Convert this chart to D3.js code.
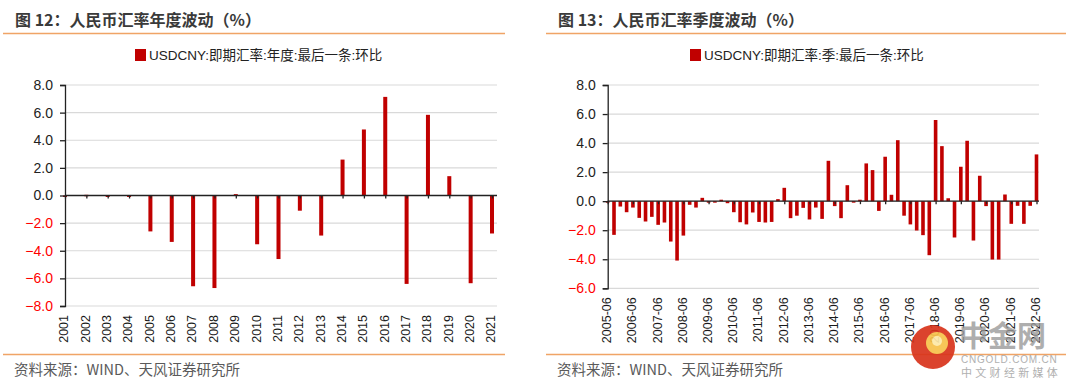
<!DOCTYPE html>
<html>
<head>
<meta charset="utf-8">
<script src="https://cdn.jsdelivr.net/npm/d3@7"></script>
<style>
  body { margin: 0; background: #fff; }
  svg { display: block; font-family: 'Liberation Sans', Arial, 'Noto Sans CJK SC', sans-serif; }
</style>
</head>
<body>
<svg id="page" width="1080" height="389"></svg>
<script>
// annual data
var years = ['2001','2002','2003','2004','2005','2006','2007','2008','2009','2010','2011',
             '2012','2013','2014','2015','2016','2017','2018','2019','2020','2021'];
var annualChg = [0.0, 0.05, -0.05, -0.05, -2.6, -3.36, -6.57, -6.7, 0.1, -3.53, -4.6,
                 -1.1, -2.9, 2.6, 4.78, 7.14, -6.4, 5.84, 1.4, -6.35, -2.75];

// quarterly data
var quarters = [
  '2005-06','2005-09','2005-12','2006-03','2006-06','2006-09','2006-12','2007-03','2007-06','2007-09','2007-12',
  '2008-03','2008-06','2008-09','2008-12','2009-03','2009-06','2009-09','2009-12','2010-03','2010-06','2010-09',
  '2010-12','2011-03','2011-06','2011-09','2011-12','2012-03','2012-06','2012-09','2012-12','2013-03','2013-06',
  '2013-09','2013-12','2014-03','2014-06','2014-09','2014-12','2015-03','2015-06','2015-09','2015-12','2016-03',
  '2016-06','2016-09','2016-12','2017-03','2017-06','2017-09','2017-12','2018-03','2018-06','2018-09','2018-12',
  '2019-03','2019-06','2019-09','2019-12','2020-03','2020-06','2020-09','2020-12','2021-03','2021-06','2021-09',
  '2021-12','2022-03','2022-06'];
var quarterlyChg = [0,
  -2.32, -0.37, -0.76, -0.44, -1.15, -1.4, -1.08, -1.63, -1.47, -2.78, -4.09, -2.37, -0.25, -0.44, 0.23,
  -0.1, -0.1, 0.1, -0.14, -0.76, -1.45, -1.6,
  -0.78, -1.43, -1.47, -1.43, 0.14, 0.92, -1.17, -1.0, -0.46, -1.26, -0.44, -1.22, 2.78, -0.34, -1.17,
  1.1, -0.1, 0.1, 2.6, 2.14, -0.67, 3.06,
  0.44, 4.2, -1.0, -1.6, -2.02, -2.34, -3.72, 5.59, 3.79, 0.2, -2.5, 2.37, 4.16, -2.71, 1.75, -0.34,
  -4.02, -4.02, 0.46, -1.56, -0.32, -1.56, -0.32, 3.22];
var quarterTicks = quarters.filter(function(d) { return d.slice(5) === '06'; });

var yTicksLeft = [-8, -6, -4, -2, 0, 2, 4, 6, 8];
var yTicksRight = [-6, -4, -2, 0, 2, 4, 6, 8];

var svg = d3.select('#page');
var red = '#c00000';

function panel(opt) {
    var g = svg.append('g');

    // title + rules
    g.append('text')
        .attr('x', opt.left + 12).attr('y', 26)
        .attr('font-size', 16).attr('font-weight', 'bold').attr('fill', '#3a3a3a')
        .attr('font-family', "'Noto Sans CJK SC', sans-serif")
        .text(opt.title);
    g.append('line')
        .attr('x1', opt.left).attr('x2', opt.right).attr('y1', 33.5).attr('y2', 33.5)
        .attr('stroke', '#f0a466').attr('stroke-width', 1.3);
    g.append('line')
        .attr('x1', opt.left).attr('x2', opt.right).attr('y1', 354.5).attr('y2', 354.5)
        .attr('stroke', '#f0a466').attr('stroke-width', 1.3);
    g.append('text')
        .attr('x', opt.left + 11).attr('y', 375)
        .attr('font-size', 14.5).attr('fill', '#5a5a5a')
        .attr('font-family', "'Noto Sans CJK SC', sans-serif")
        .text('资料来源：WIND、天风证券研究所');

    // legend
    var lg = g.append('g').attr('transform', 'translate(' + opt.legendX + ',49)');
    lg.append('rect').attr('width', 11).attr('height', 12).attr('fill', red);
    lg.append('text').attr('x', 14).attr('y', 11)
        .attr('font-size', 13.5).attr('fill', '#222')
        .attr('font-family', "'Liberation Sans', 'Noto Sans CJK SC', sans-serif")
        .text(opt.legend);

    var y = d3.scaleLinear().domain(opt.yDomain).range(opt.yRange);
    var x = d3.scalePoint().domain(opt.cats).range(opt.xRange);

    // gridlines
    g.append('g').selectAll('line').data(opt.yTicks).enter().append('line')
        .attr('x1', opt.xRange[0]).attr('x2', opt.gridRight)
        .attr('y1', function(d) { return y(d); }).attr('y2', function(d) { return y(d); })
        .attr('stroke', '#d9d9d9').attr('stroke-width', 1.2);

    // bars
    g.append('g').selectAll('rect').data(opt.values).enter().append('rect')
        .attr('x', function(d, i) { return x(opt.cats[i]) - opt.barW / 2; })
        .attr('y', function(d) { return y(Math.max(0, d)); })
        .attr('width', opt.barW)
        .attr('height', function(d) { return Math.max(1.5, Math.abs(y(d) - y(0))); })
        .attr('fill', red);

    // y axis
    var yAxis = d3.axisLeft(y).tickValues(opt.yTicks).tickSize(5).tickPadding(7)
        .tickFormat(d3.format('.1f'));
    var ya = g.append('g').attr('transform', 'translate(' + opt.xRange[0] + ',0)').call(yAxis);
    ya.select('.domain').attr('stroke', '#222').attr('stroke-width', 1.3);
    ya.selectAll('.tick line').attr('stroke', '#222').attr('stroke-width', 1.3);
    ya.selectAll('.tick text')
        .attr('font-size', 14)
        .attr('font-family', "'Liberation Sans', Arial, sans-serif")
        .attr('fill', function(d) { return d < 0 ? '#ff0000' : '#222'; });

    // zero line with ticks
    var xAxis = d3.axisBottom(x).tickValues(opt.tickCats).tickSize(3).tickFormat('');
    var xa = g.append('g').attr('transform', 'translate(0,' + y(0) + ')').call(xAxis);
    xa.select('.domain').attr('stroke', '#222').attr('stroke-width', 1.3)
        .attr('d', 'M' + opt.xRange[0] + ',0H' + opt.gridRight);
    xa.selectAll('.tick line').attr('stroke', '#222').attr('stroke-width', 1.3);

    // bottom category labels
    g.append('g').selectAll('text').data(opt.tickCats).enter().append('text')
        .attr('transform', function(d) {
            return 'translate(' + (x(d) - 1) + ',' + (opt.yRange[0] + 9) + ') rotate(-90)';
        })
        .attr('dy', '0.35em')
        .attr('text-anchor', 'end')
        .attr('font-size', 12.5)
        .attr('fill', '#1a1a1a')
        .attr('font-family', "'Liberation Sans', Arial, sans-serif")
        .text(function(d) { return d; });
}

panel({
    left: 3, right: 505,
    title: '图 12：人民币汇率年度波动（%）',
    legend: 'USDCNY:即期汇率:年度:最后一条:环比',
    legendX: 135,
    cats: years, values: annualChg, tickCats: years,
    yDomain: [-8, 8], yRange: [306, 85], yTicks: yTicksLeft,
    xRange: [65, 492], gridRight: 497, barW: 4
});

panel({
    left: 546, right: 1066,
    title: '图 13：人民币汇率季度波动（%）',
    legend: 'USDCNY:即期汇率:季:最后一条:环比',
    legendX: 690,
    cats: quarters, values: quarterlyChg, tickCats: quarterTicks,
    yDomain: [-6, 8], yRange: [288.3, 85], yTicks: yTicksRight,
    xRange: [607.7, 1036.5], gridRight: 1039, barW: 3.6
});

// watermark
var wm = svg.append('g').attr('opacity', 0.92);
wm.append('circle').attr('cx', 933).attr('cy', 347).attr('r', 22).attr('fill', '#d9341c');
wm.append('circle').attr('cx', 937).attr('cy', 343).attr('r', 11).attr('fill', '#f7c24a');
wm.append('circle').attr('cx', 937).attr('cy', 341).attr('r', 5).attr('fill', '#fde9a8');
wm.append('text').attr('x', 959).attr('y', 347)
    .attr('font-size', 29).attr('font-weight', 'bold').attr('fill', '#9a9a9a')
    .attr('font-family', "'Noto Sans CJK SC', sans-serif").attr('opacity', 0.85)
    .text('中金网');
wm.append('text').attr('x', 961).attr('y', 363)
    .attr('font-size', 10).attr('fill', '#aaa').attr('letter-spacing', 0.8)
    .text('CNGOLD.COM.CN');
wm.append('text').attr('x', 961).attr('y', 377)
    .attr('font-size', 11).attr('fill', '#aaa').attr('letter-spacing', 3.3)
    .attr('font-family', "'Noto Sans CJK SC', sans-serif")
    .text('中文财经新媒体');
</script>
</body>
</html>
